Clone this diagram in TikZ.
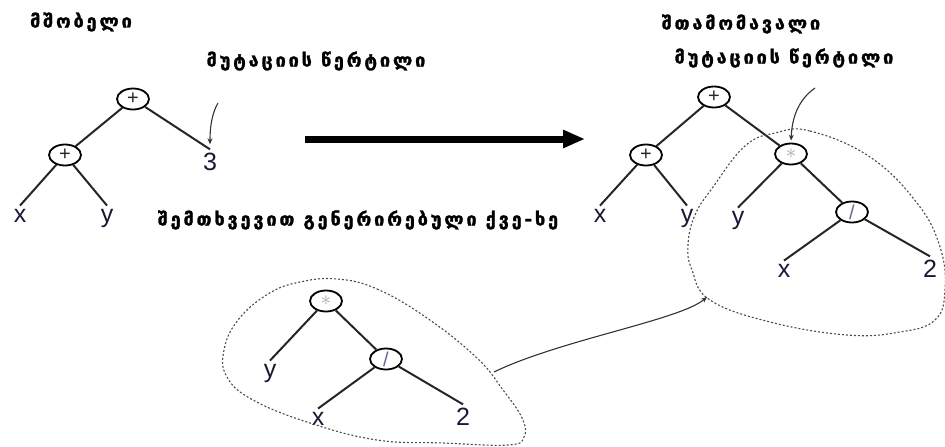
\documentclass[tikz,border=0pt]{standalone}
\usepackage{fontspec}
\setmainfont{Liberation Sans}
\newfontfamily\geo{DejaVu Sans}[LetterSpace=16, BoldFeatures={FakeBold=1.6}]
\usetikzlibrary{shapes.geometric,arrows.meta}
\definecolor{leafc}{RGB}{25,25,55}
\begin{document}
\begin{tikzpicture}[x=1pt,y=-1pt,
  op/.style={draw, ellipse, line width=1.8pt, minimum width=32pt, minimum height=21pt, inner sep=0pt, font=\fontsize{20}{20}\selectfont, text=black!85},
  leaf/.style={anchor=base, inner sep=3pt, font=\fontsize{25}{25}\selectfont, text=leafc},
  edge/.style={line width=2pt, black!85},
  geolabel/.style={font=\geo\bfseries\fontsize{18}{18}\selectfont},
  blob/.style={gray!60!black, line width=1.1pt, dash pattern=on 2pt off 2pt},
  thinarrow/.style={gray!40!black, line width=1.1pt, -{Stealth[length=6pt,width=5pt]}}
]
\useasboundingbox (0,0) rectangle (945,447);

% labels
\node[geolabel] (lparent) at (81,22) {მშობელი};
\node[geolabel] (lmutl) at (316,61) {მუტაციის წერტილი};
\node[geolabel] (loff) at (741,24) {შთამომავალი};
\node[geolabel] (lmutr) at (784,58) {მუტაციის წერტილი};
\node[geolabel] (lrand) at (358,220) {შემთხვევით გენერირებული ქვე-ხე};

% left tree (parent)
\node[op] (L1) at (133,99) {+};
\node[op] (L2) at (65,155) {+};
\node[leaf] (Lx) at (20,222) {x};
\node[leaf] (Ly) at (107,222) {y};
\node[leaf] (L3) at (210,170) {3};
\draw[edge] (L1) -- (L2);
\draw[edge] (L1) -- (L3.north);
\draw[edge] (L2) -- (Lx.north);
\draw[edge] (L2) -- (Ly.north);
\coordinate (ma1) at (218,103);
\draw[thinarrow, shorten >=5pt] (ma1) .. controls (211,115) and (210,130) .. (L3.north);

% big arrow
\coordinate (ba1) at (305,139);
\coordinate (ba2) at (585,139);
\draw[line width=7pt, -{Triangle[length=22pt,width=17pt]}] (ba1) -- (ba2);

% right tree (offspring)
\node[op] (R1) at (714,97) {+};
\node[op] (R2) at (646,155) {+};
\node[op, text=gray!70] (R3) at (791,154) {$\ast$};
\node[op, text=gray!80!blue] (R4) at (852,212) {/};
\node[leaf] (Rx1) at (600,222) {x};
\node[leaf] (Ry1) at (687,222) {y};
\node[leaf] (Ry2) at (738,224) {y};
\node[leaf] (Rx2) at (784,277) {x};
\node[leaf] (Rn2) at (930,277) {2};
\draw[edge] (R1) -- (R2);
\draw[edge] (R1) -- (R3);
\draw[edge] (R2) -- (Rx1.north);
\draw[edge] (R2) -- (Ry1.north);
\draw[edge] (R3) -- (Ry2.north);
\draw[edge] (R3) -- (R4);
\draw[edge] (R4) -- (Rx2.north);
\draw[edge] (R4) -- (Rn2.north);
\coordinate (ma2) at (815,88);
\draw[thinarrow, shorten >=2pt] (ma2) .. controls (798,100) and (792,118) .. (R3.north);
\draw[blob] plot[smooth cycle, tension=0.7] coordinates {(775,133) (810,131) (870,157) (917,203) (940,247) (945,290) (935,320) (900,332) (847,335) (770,322) (710,300) (692,270) (688,245) (695,215) (713,187) (745,146)};

% bottom tree (random subtree)
\node[op, text=gray!70] (B1) at (326,301) {$\ast$};
\node[op, text=gray!80!blue] (B2) at (386,359) {/};
\node[leaf] (By) at (270,377) {y};
\node[leaf] (Bx) at (318,425) {x};
\node[leaf] (Bn2) at (463,425) {2};
\draw[edge] (B1) -- (By.north);
\draw[edge] (B1) -- (B2);
\draw[edge] (B2) -- (Bx.north);
\draw[edge] (B2) -- (Bn2.north);
\draw[blob] plot[smooth cycle, tension=0.7] coordinates {(337,279) (377,289) (427,318) (477,358) (503,390) (522,418) (524,437) (508,445) (443,443) (377,440) (310,423) (253,400) (227,377) (224,350) (238,320) (268,294) (300,282)};

% connector between subtrees
\coordinate (bs) at (494,372);
\coordinate (be) at (707,297);
\draw[thinarrow] (bs) .. controls (560,340) and (680,320) .. (be);
\end{tikzpicture}
\end{document}
